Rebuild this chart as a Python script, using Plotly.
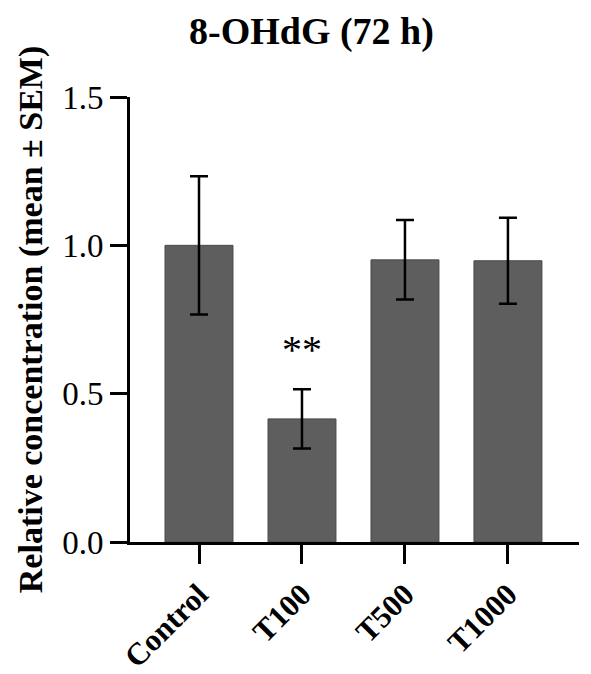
import plotly.graph_objects as go

categories = ["Control", "T100", "T500", "T1000"]
means = [1.0, 0.415, 0.951, 0.948]
sem = [0.233, 0.100, 0.134, 0.145]
sig_labels = ["", "**", "", ""]
y_ticks = [0.0, 0.5, 1.0, 1.5]
y_tick_text = ["0.0", "0.5", "1.0", "1.5"]

SERIF = "Liberation Serif, Times New Roman, serif"

fig = go.Figure()
fig.add_trace(go.Bar(
    x=categories, y=means,
    marker=dict(color="#5e5e5e", line=dict(color="#4a4a4a", width=1)),
    error_y=dict(type="data", array=sem, visible=True, color="black", thickness=2.5, width=9),
    width=0.66,
))

for c, m, s, lab in zip(categories, means, sem, sig_labels):
    if lab:
        fig.add_annotation(x=c, y=m + s + 0.135, text=lab, showarrow=False,
                           font=dict(family=SERIF, size=40, color="black"),
                           yanchor="middle")

fig.update_layout(
    width=591, height=674,
    margin=dict(l=130, r=12, t=97, b=132),
    plot_bgcolor="white", paper_bgcolor="white",
    showlegend=False,
    title=dict(text="<b>8-OHdG (72 h)</b>", x=0.527, xanchor="center", y=0.955, yanchor="middle",
               font=dict(family=SERIF, size=38, color="black")),
    xaxis=dict(
        range=[-0.67, 3.69], showline=True, linecolor="black", linewidth=3,
        ticks="outside", ticklen=19, tickwidth=3, tickcolor="black",
        tickangle=-45, tickfont=dict(family=SERIF, size=31, color="black"),
        tickprefix="<b>", ticksuffix="</b>", showgrid=False, zeroline=False,
        automargin=False,
    ),
    yaxis=dict(
        range=[0, 1.5], showline=True, linecolor="black", linewidth=3,
        ticks="outside", ticklen=17, tickwidth=3, tickcolor="black",
        tickvals=y_ticks, ticktext=y_tick_text,
        tickfont=dict(family=SERIF, size=33, color="black"),
        showgrid=False, zeroline=False, automargin=False,
        title=dict(text="<b>Relative concentration (mean ± SEM)</b>", standoff=10,
                   font=dict(family=SERIF, size=34, color="black")),
    ),
)

fig.write_html("out.html")
